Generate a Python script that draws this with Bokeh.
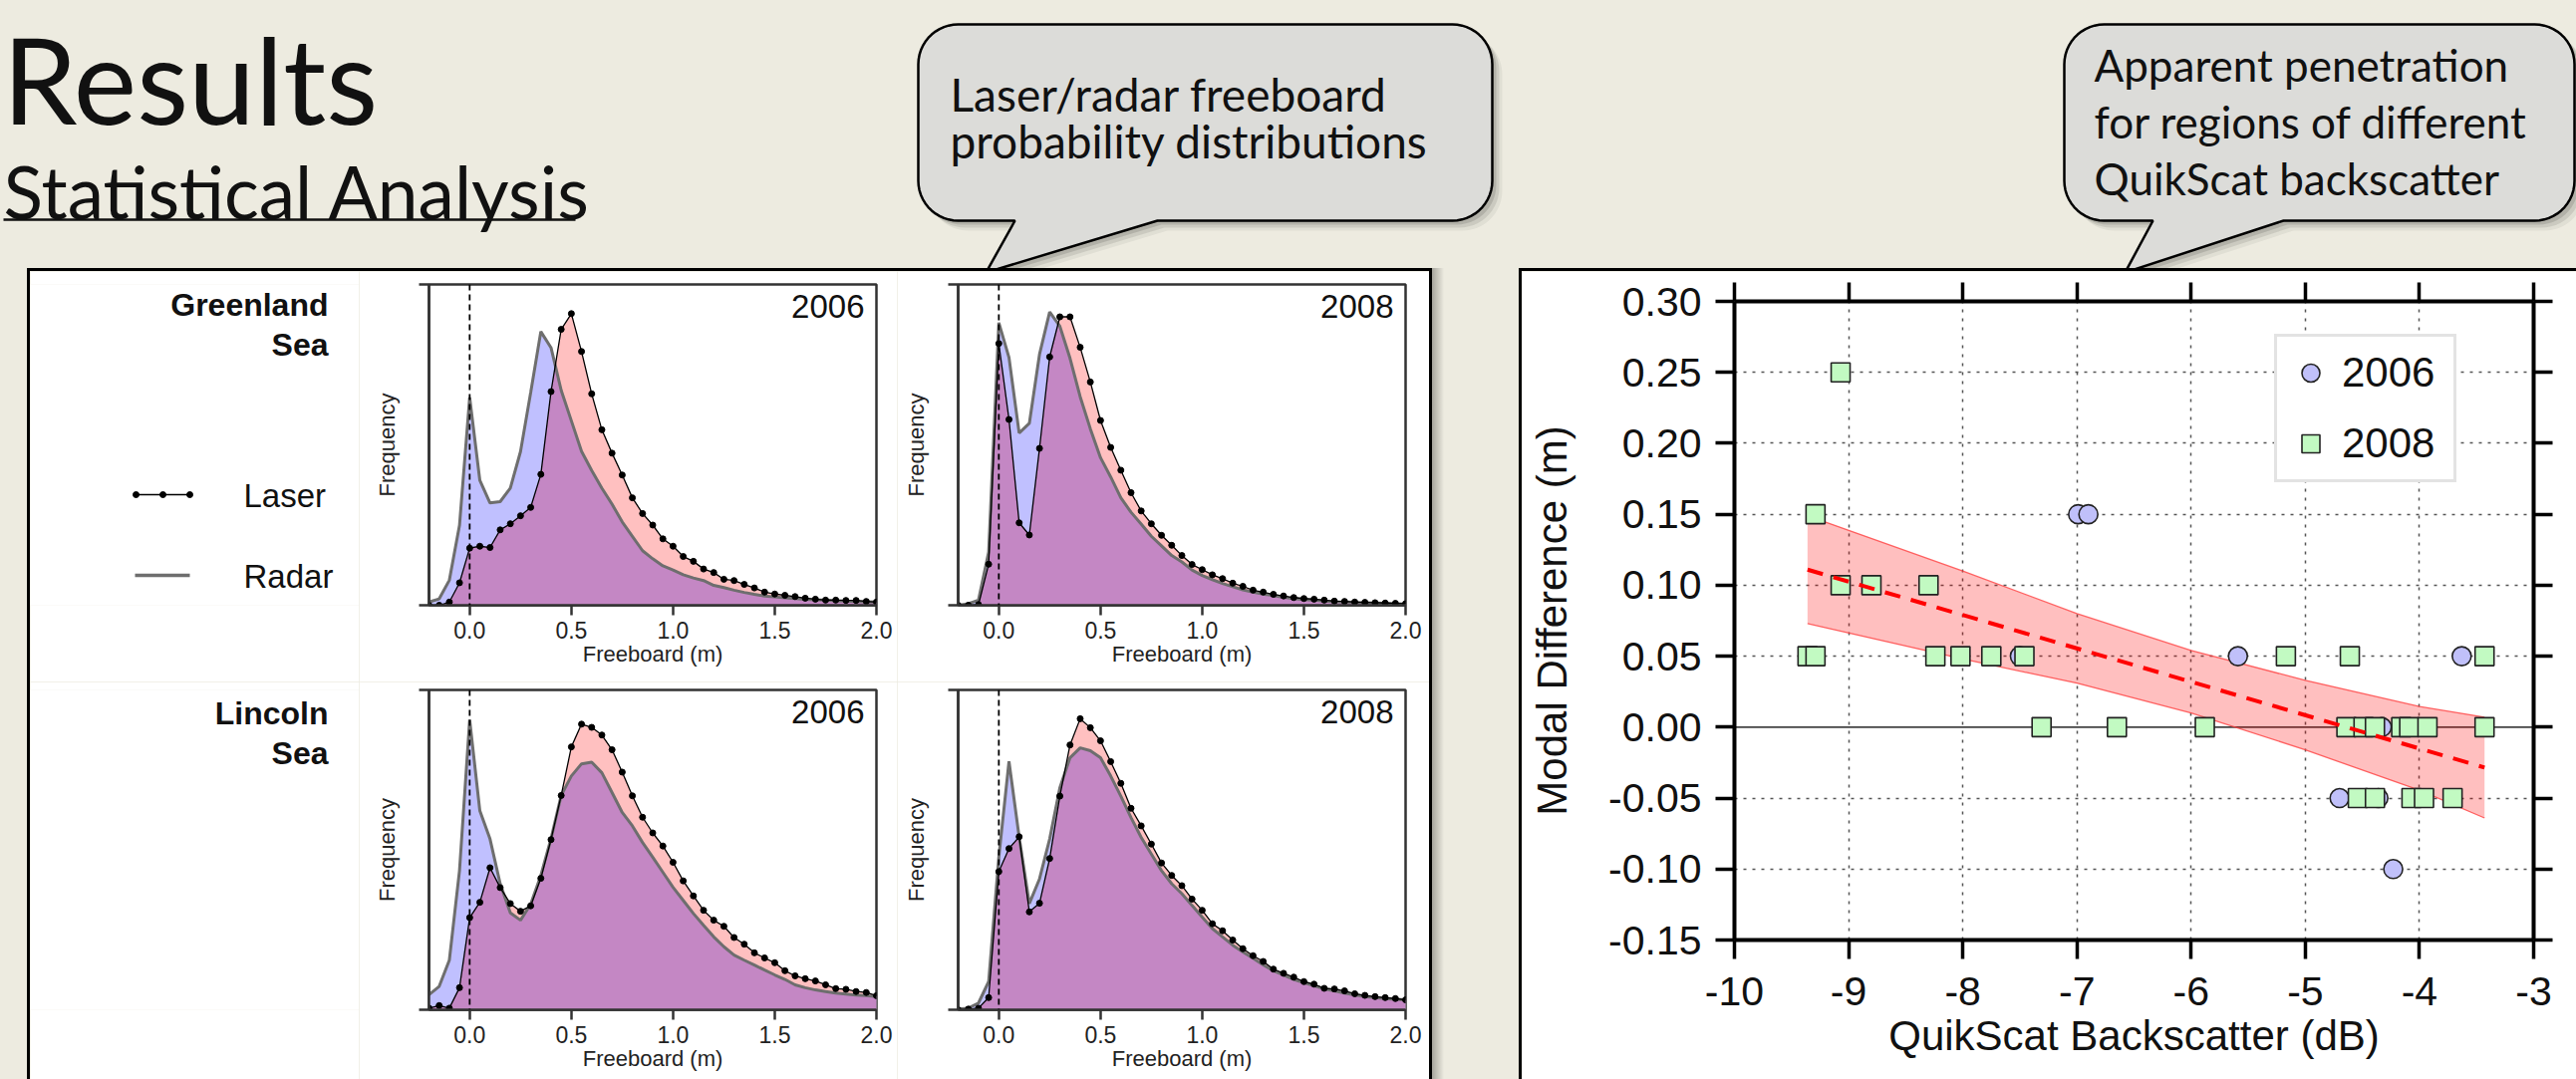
import numpy as np
from bokeh.plotting import figure
from bokeh.models import (Range1d, FixedTicker, Span, Label, Legend, LegendItem,
                          NumeralTickFormatter, LinearAxis, Spacer, CustomJSTickFormatter,
                          GlobalInlineStyleSheet)
from bokeh.layouts import column, row
from bokeh.embed import file_html
from bokeh.resources import INLINE

# ------------------------------------------------------------------ data
freeboard_m = [-0.20, -0.15, -0.10, -0.05, 0.00, 0.05, 0.10, 0.15, 0.20, 0.25,
               0.30, 0.35, 0.40, 0.45, 0.50, 0.55, 0.60, 0.65, 0.70, 0.75,
               0.80, 0.85, 0.90, 0.95, 1.00, 1.05, 1.10, 1.15, 1.20, 1.25,
               1.30, 1.35, 1.40, 1.45, 1.50, 1.55, 1.60, 1.65, 1.70, 1.75,
               1.80, 1.85, 1.90, 1.95, 2.00]

greenland_2006_laser = [0.000, 0.000, 0.010, 0.070, 0.178, 0.184, 0.180, 0.235, 0.254, 0.279,
                        0.305, 0.408, 0.666, 0.860, 0.909, 0.791, 0.659, 0.547, 0.474, 0.406,
                        0.335, 0.286, 0.250, 0.207, 0.184, 0.152, 0.137, 0.113, 0.102, 0.081,
                        0.077, 0.065, 0.054, 0.041, 0.035, 0.031, 0.027, 0.022, 0.019, 0.016,
                        0.016, 0.015, 0.015, 0.012, 0.010]
greenland_2006_radar = [0.010, 0.020, 0.078, 0.249, 0.648, 0.389, 0.319, 0.323, 0.365, 0.479,
                        0.663, 0.853, 0.803, 0.670, 0.575, 0.480, 0.420, 0.365, 0.315, 0.260,
                        0.215, 0.170, 0.145, 0.123, 0.110, 0.095, 0.085, 0.077, 0.062, 0.055,
                        0.047, 0.040, 0.034, 0.029, 0.026, 0.023, 0.021, 0.019, 0.017, 0.016,
                        0.014, 0.013, 0.012, 0.011, 0.010]
greenland_2008_laser = [0.000, 0.000, 0.002, 0.128, 0.816, 0.579, 0.257, 0.219, 0.489, 0.774,
                        0.899, 0.899, 0.804, 0.696, 0.576, 0.492, 0.421, 0.351, 0.294, 0.254,
                        0.218, 0.187, 0.155, 0.127, 0.111, 0.095, 0.083, 0.069, 0.059, 0.047,
                        0.041, 0.034, 0.029, 0.024, 0.021, 0.019, 0.016, 0.013, 0.012, 0.010,
                        0.009, 0.008, 0.007, 0.006, 0.005]
greenland_2008_radar = [0.000, 0.005, 0.016, 0.166, 0.881, 0.772, 0.537, 0.567, 0.782, 0.914,
                        0.870, 0.770, 0.650, 0.550, 0.460, 0.400, 0.335, 0.290, 0.253, 0.215,
                        0.185, 0.155, 0.135, 0.110, 0.093, 0.080, 0.068, 0.058, 0.048, 0.041,
                        0.035, 0.030, 0.025, 0.021, 0.018, 0.016, 0.013, 0.011, 0.010, 0.009,
                        0.008, 0.007, 0.006, 0.005, 0.004]
lincoln_2006_laser = [0.005, 0.013, 0.005, 0.069, 0.288, 0.336, 0.444, 0.382, 0.332, 0.308,
                      0.325, 0.411, 0.532, 0.670, 0.822, 0.893, 0.883, 0.859, 0.813, 0.743,
                      0.669, 0.602, 0.553, 0.512, 0.461, 0.403, 0.356, 0.311, 0.280, 0.261,
                      0.226, 0.205, 0.178, 0.162, 0.147, 0.122, 0.106, 0.097, 0.090, 0.078,
                      0.066, 0.064, 0.057, 0.054, 0.044]
lincoln_2006_radar = [0.047, 0.073, 0.155, 0.435, 0.907, 0.622, 0.534, 0.394, 0.303, 0.280,
                      0.330, 0.420, 0.535, 0.670, 0.731, 0.769, 0.774, 0.741, 0.679, 0.617,
                      0.575, 0.523, 0.477, 0.430, 0.383, 0.342, 0.301, 0.264, 0.228, 0.197,
                      0.171, 0.155, 0.140, 0.124, 0.109, 0.095, 0.078, 0.069, 0.062, 0.057,
                      0.052, 0.049, 0.046, 0.044, 0.041]
lincoln_2008_laser = [0.000, 0.002, 0.005, 0.038, 0.432, 0.504, 0.541, 0.306, 0.333, 0.473,
                      0.668, 0.828, 0.910, 0.882, 0.841, 0.776, 0.708, 0.630, 0.575, 0.518,
                      0.459, 0.420, 0.388, 0.346, 0.311, 0.269, 0.247, 0.218, 0.191, 0.169,
                      0.151, 0.127, 0.114, 0.102, 0.088, 0.080, 0.067, 0.065, 0.059, 0.050,
                      0.045, 0.041, 0.038, 0.035, 0.031]
lincoln_2008_radar = [0.002, 0.005, 0.021, 0.088, 0.477, 0.777, 0.540, 0.332, 0.409, 0.534,
                      0.694, 0.788, 0.819, 0.810, 0.788, 0.731, 0.668, 0.601, 0.539, 0.487,
                      0.435, 0.394, 0.363, 0.326, 0.290, 0.254, 0.228, 0.202, 0.181, 0.161,
                      0.140, 0.122, 0.109, 0.095, 0.085, 0.075, 0.065, 0.059, 0.052, 0.047,
                      0.041, 0.038, 0.035, 0.033, 0.031]

freeboard_ticks = [0.0, 0.5, 1.0, 1.5, 2.0]

# scatter: modal difference vs QuikScat backscatter
backscatter_2006 = [-6.99, -6.90, -7.50, -5.59, -3.63, -4.33, -4.70, -4.36, -4.23]
moddiff_2006 = [0.15, 0.15, 0.05, 0.05, 0.05, 0.00, -0.05, -0.05, -0.10]
backscatter_2008 = [-9.07, -9.29, -9.07, -8.80, -8.30,
                    -9.36, -9.29, -8.24, -8.02, -7.75, -7.46, -5.17, -4.61, -3.43,
                    -7.31, -6.65, -5.88, -4.64, -4.49, -4.39, -4.16, -4.09, -3.93, -3.43,
                    -4.54, -4.39, -4.07, -3.96, -3.71]
moddiff_2008 = [0.25, 0.15, 0.10, 0.10, 0.10,
                0.05, 0.05, 0.05, 0.05, 0.05, 0.05, 0.05, 0.05, 0.05,
                0.00, 0.00, 0.00, 0.00, 0.00, 0.00, 0.00, 0.00, 0.00, 0.00,
                -0.05, -0.05, -0.05, -0.05, -0.05]
fit_x = [-9.36, -3.43]
fit_y = [0.111, -0.0285]
band_x = [-9.36, -8.0, -7.0, -6.0, -5.0, -4.0, -3.43]
band_upper = [0.149, 0.110, 0.080, 0.054, 0.033, 0.0145, 0.007]
band_lower = [0.073, 0.048, 0.031, 0.010, -0.016, -0.0445, -0.064]
backscatter_ticks = [-10, -9, -8, -7, -6, -5, -4, -3]
moddiff_ticks = [-0.15, -0.10, -0.05, 0.00, 0.05, 0.10, 0.15, 0.20, 0.25, 0.30]

# ------------------------------------------------------------------ style
BG = "#EDEBE0"
PINK = "#FFC0C0"
BLUE = "#C0C0FF"
PURPLE = "#C487C4"
CHART_FONT = "Liberation Sans"
SLIDE_FONT = "Lato"
EMPTY = CustomJSTickFormatter(code="return ''")


def lower_envelope(x, a, b):
    xs, ys = [], []
    for i in range(len(x)):
        if i > 0:
            d0 = a[i - 1] - b[i - 1]
            d1 = a[i] - b[i]
            if d0 * d1 < 0:
                t = d0 / (d0 - d1)
                xs.append(x[i - 1] + t * (x[i] - x[i - 1]))
                ys.append(a[i - 1] + t * (a[i] - a[i - 1]))
        xs.append(x[i])
        ys.append(min(a[i], b[i]))
    return xs, ys


def dist_chart(laser, radar, year, width, height, mb_left, mb_right, mb_top, mb_bottom):
    p = figure(width=width, height=height, x_range=Range1d(-0.2, 2.0), y_range=Range1d(0, 1),
               output_backend="svg", toolbar_location=None,
               min_border_left=mb_left, min_border_right=mb_right,
               min_border_top=mb_top, min_border_bottom=mb_bottom)
    p.background_fill_color = "white"
    p.border_fill_color = "white"
    p.outline_line_color = "#333333"
    p.outline_line_width = 2.5
    p.grid.visible = False
    ex, ey = lower_envelope(freeboard_m, laser, radar)
    p.varea(x=freeboard_m, y1=0, y2=laser, fill_color=PINK)
    p.varea(x=freeboard_m, y1=0, y2=radar, fill_color=BLUE)
    p.varea(x=ex, y1=0, y2=ey, fill_color=PURPLE)
    p.line(freeboard_m, radar, line_color="#6E6E6E", line_width=3)
    p.line(freeboard_m, laser, line_color="black", line_width=1.3)
    p.scatter(freeboard_m, laser, size=6, color="black")
    p.add_layout(Span(location=0, dimension="height", line_color="black",
                      line_width=1.8, line_dash="6 4"))
    p.add_layout(Label(x=2.0, y=1.0, x_offset=-12, y_offset=-10, text=year,
                       text_align="right", text_baseline="top",
                       text_font=CHART_FONT, text_font_size="33px", text_color="#111111"))
    xa = p.xaxis[0]
    ya = p.yaxis[0]
    xa.ticker = FixedTicker(ticks=freeboard_ticks)
    xa.formatter = NumeralTickFormatter(format="0.0")
    xa.axis_label = "Freeboard (m)"
    ya.ticker = FixedTicker(ticks=[0, 1])
    ya.formatter = EMPTY
    ya.axis_label = "Frequency"
    for ax in (xa, ya):
        ax.axis_line_color = "#333333"
        ax.axis_line_width = 2.5
        ax.major_tick_line_color = "#333333"
        ax.major_tick_line_width = 2.5
        ax.major_tick_in = 0
        ax.major_tick_out = 10
        ax.minor_tick_line_color = None
        ax.axis_label_text_font = CHART_FONT
        ax.axis_label_text_font_size = "22px"
        ax.axis_label_text_font_style = "normal"
        ax.axis_label_text_color = "#222222"
        ax.major_label_text_font = CHART_FONT
        ax.major_label_text_font_size = "23px"
        ax.major_label_text_color = "#222222"
    xa.major_label_standoff = 6
    xa.axis_label_standoff = 0
    ya.major_label_standoff = 0
    ya.axis_label_standoff = 20
    return p


def label_panel(name1, name2, height, mb_top, mb_bottom, frame_top, frame_bottom, base1,
                with_legend):
    # frame is aligned with the neighbouring charts; its range is in page pixels
    p = figure(width=330, height=height, x_range=Range1d(30, 360),
               y_range=Range1d(frame_bottom, frame_top), x_axis_type=None, y_axis_type=None,
               output_backend="svg", toolbar_location=None,
               min_border_left=0, min_border_right=0,
               min_border_top=mb_top, min_border_bottom=mb_bottom)
    p.background_fill_color = "white"
    p.border_fill_color = "white"
    p.outline_line_color = None
    p.grid.visible = False
    for txt, yb in ((name1, base1), (name2, base1 + 40)):
        p.add_layout(Label(x=329, y=yb - 8, text=txt, text_align="right",
                           text_baseline="alphabetic", text_font=CHART_FONT,
                           text_font_size="32px", text_font_style="bold", text_color="#111111"))
    if with_legend:
        p.line([135, 190], [496, 496], line_color="black", line_width=1.5)
        p.scatter([136, 163, 190], [496, 496, 496], size=6, color="black")
        p.line([135, 190], [577, 577], line_color="#6E6E6E", line_width=3.5)
        p.add_layout(Label(x=244, y=497, text="Laser", text_baseline="alphabetic",
                           text_font=CHART_FONT, text_font_size="33px", text_color="#111111"))
        p.add_layout(Label(x=244, y=578, text="Radar", text_baseline="alphabetic",
                           text_font=CHART_FONT, text_font_size="33px", text_color="#111111"))
    return p


# ------------------------------------------------------------------ top band (slide title + callouts)
top = figure(width=2585, height=269, x_range=Range1d(0, 2585), y_range=Range1d(269, 0),
             x_axis_type=None, y_axis_type=None, output_backend="svg",
             toolbar_location=None, min_border=0)
top.background_fill_color = BG
top.border_fill_color = BG
top.outline_line_color = None
top.grid.visible = False

top.add_layout(Label(x=2, y=78, text="Results", text_baseline="alphabetic",
                     text_font=SLIDE_FONT, text_font_size="120px", text_color="#111111"))
top.add_layout(Label(x=3, y=191, text="Statistical Analysis", text_baseline="alphabetic",
                     text_font=SLIDE_FONT, text_font_size="73px", text_color="#111111"))
top.line([3, 577], [220, 220], line_color="#111111", line_width=2.5)


def bubble_path(x0, y0, x1, y1, r, bx0, bx1, tx, ty):
    xs, ys = [], []

    def arc(cx, cy, a0, a1):
        for a in np.linspace(np.radians(a0), np.radians(a1), 14):
            xs.append(cx + r * np.cos(a))
            ys.append(cy + r * np.sin(a))

    arc(x0 + r, y0 + r, 180, 270)
    arc(x1 - r, y0 + r, 270, 360)
    arc(x1 - r, y1 - r, 0, 90)
    xs.extend([bx1, tx, bx0])
    ys.extend([y1, ty, y1])
    arc(x0 + r, y1 - r, 90, 180)
    return xs, ys


for (x0, x1, bx0, bx1, tx) in ((921, 1497, 1018, 1161, 989), (2071, 2583, 2160, 2291, 2132)):
    bx, by = bubble_path(x0, 24, x1, 221, 40, bx0, bx1, tx, 273)
    for off, alpha in ((10, 0.05), (7, 0.09), (4, 0.12)):
        top.patch([v + off for v in bx], [v + off for v in by], fill_color="black",
                  fill_alpha=alpha, line_color=None)
    top.patch(bx, by, fill_color="#DCDCD9", line_color="black", line_width=2.5)

for txt, yb in (("Laser/radar freeboard", 94), ("probability distributions", 141)):
    top.add_layout(Label(x=953, y=yb, text=txt, text_baseline="alphabetic",
                         text_font=SLIDE_FONT, text_font_size="46px", text_color="#111111"))
for txt, yb in (("Apparent penetration", 64), ("for regions of different", 121),
                ("QuikScat backscatter", 178)):
    top.add_layout(Label(x=2101, y=yb, text=txt, text_baseline="alphabetic",
                         text_font=SLIDE_FONT, text_font_size="44px", text_color="#111111"))

# ------------------------------------------------------------------ left box: distributions
lab1 = label_panel("Greenland", "Sea", 412, 13, 77, 285, 607, 313, True)
lab2 = label_panel("Lincoln", "Sea", 399, 8, 70, 692, 1013, 723, False)
c1 = dist_chart(greenland_2006_laser, greenland_2006_radar, "2006", 540, 412, 70, 21, 13, 77)
c2 = dist_chart(greenland_2008_laser, greenland_2008_radar, "2008", 534, 412, 61, 24, 13, 77)
c3 = dist_chart(lincoln_2006_laser, lincoln_2006_radar, "2006", 540, 399, 70, 21, 8, 70)
c4 = dist_chart(lincoln_2008_laser, lincoln_2008_radar, "2008", 534, 399, 61, 24, 8, 70)

left_inner = column(Spacer(width=1404, height=3, styles={"background-color": "black"}),
                    row(lab1, c1, c2), row(lab2, c3, c4))
left_box = row(Spacer(width=3, height=814, styles={"background-color": "black"}),
               left_inner,
               Spacer(width=3, height=814, styles={"background-color": "black"}))

# ------------------------------------------------------------------ right box: scatter
ps = figure(width=1058, height=811, x_range=Range1d(-10, -3), y_range=Range1d(-0.15, 0.30),
            output_backend="svg", toolbar_location=None,
            min_border_left=213, min_border_right=43, min_border_top=30, min_border_bottom=140)
ps.background_fill_color = "white"
ps.border_fill_color = "white"
ps.outline_line_color = None
ps.xgrid.ticker = FixedTicker(ticks=[-9, -8, -7, -6, -5, -4])
ps.ygrid.ticker = FixedTicker(ticks=[-0.10, -0.05, 0.05, 0.10, 0.15, 0.20, 0.25])
ps.grid.grid_line_color = "#555555"
ps.grid.grid_line_width = 1.5
ps.grid.grid_line_dash = "3 6"

ps.add_layout(Span(location=0, dimension="width", line_color="#444444", line_width=1.6,
                   level="underlay"))
ps.varea(x=band_x, y1=band_lower, y2=band_upper, fill_color="red", fill_alpha=0.25)
ps.line(band_x, band_upper, line_color="#FF4040", line_width=1.3, line_alpha=0.8)
ps.line(band_x, band_lower, line_color="#FF4040", line_width=1.3, line_alpha=0.8)
r06 = ps.scatter(backscatter_2006, moddiff_2006, marker="circle", size=19,
                 fill_color="#C0C0FA", line_color="#222222", line_width=1.6)
r08 = ps.scatter(backscatter_2008, moddiff_2008, marker="square", size=19,
                 fill_color="#C2FAC2", line_color="#222222", line_width=1.6)
ps.line(fit_x, fit_y, line_color="red", line_width=4, line_dash="16 11")

xa = ps.xaxis[0]
ya = ps.yaxis[0]
xa.ticker = FixedTicker(ticks=backscatter_ticks)
xa.formatter = NumeralTickFormatter(format="0")
xa.axis_label = "QuikScat Backscatter (dB)"
ya.ticker = FixedTicker(ticks=moddiff_ticks)
ya.formatter = NumeralTickFormatter(format="0.00")
ya.axis_label = "Modal Difference (m)"
ax_top = LinearAxis(ticker=FixedTicker(ticks=backscatter_ticks), formatter=EMPTY)
ax_right = LinearAxis(ticker=FixedTicker(ticks=moddiff_ticks), formatter=EMPTY)
ps.add_layout(ax_top, "above")
ps.add_layout(ax_right, "right")
for ax in (xa, ya, ax_top, ax_right):
    ax.axis_line_color = "black"
    ax.axis_line_width = 4
    ax.major_tick_line_color = "black"
    ax.major_tick_line_width = 3.5
    ax.major_tick_in = 0
    ax.major_tick_out = 19
    ax.minor_tick_line_color = None
    ax.major_label_text_font = CHART_FONT
    ax.major_label_text_font_size = "41px"
    ax.major_label_text_color = "#111111"
    ax.axis_label_text_font = CHART_FONT
    ax.axis_label_text_font_size = "42px"
    ax.axis_label_text_font_style = "normal"
    ax.axis_label_text_color = "#111111"
xa.major_label_standoff = 18
xa.axis_label_standoff = 4
ya.major_label_standoff = 14
ya.axis_label_standoff = 30

legend = Legend(items=[LegendItem(label="2006", renderers=[r06]),
                       LegendItem(label="2008", renderers=[r08])],
                location=(542, 459), orientation="vertical",
                border_line_color="#C8C8C8", border_line_width=3.5,
                background_fill_color="white", background_fill_alpha=1.0,
                label_text_font=CHART_FONT, label_text_font_size="42px",
                label_text_color="#111111",
                label_standoff=9, glyph_width=45, glyph_height=50,
                label_height=50, label_width=101, spacing=21, padding=11, margin=0)
ps.add_layout(legend)

right_box = row(Spacer(width=3, height=814, styles={"background-color": "black"}),
                column(Spacer(width=1058, height=3, styles={"background-color": "black"}), ps))

# ------------------------------------------------------------------ page layout
shadow = Spacer(width=12, height=814,
                styles={"background": "linear-gradient(to right, rgba(0,0,0,0.30), rgba(0,0,0,0))"})
bottom_row = row(Spacer(width=27, height=814), left_box, shadow, Spacer(width=75, height=814),
                 right_box)

root = column(top, bottom_row, styles={"background-color": BG},
              stylesheets=[GlobalInlineStyleSheet(
                  css="html, body {margin:0 !important; padding:0 !important; "
                      "background-color:#EDEBE0; overflow:hidden;}")])

open("out.html", "w").write(file_html(root, INLINE))
